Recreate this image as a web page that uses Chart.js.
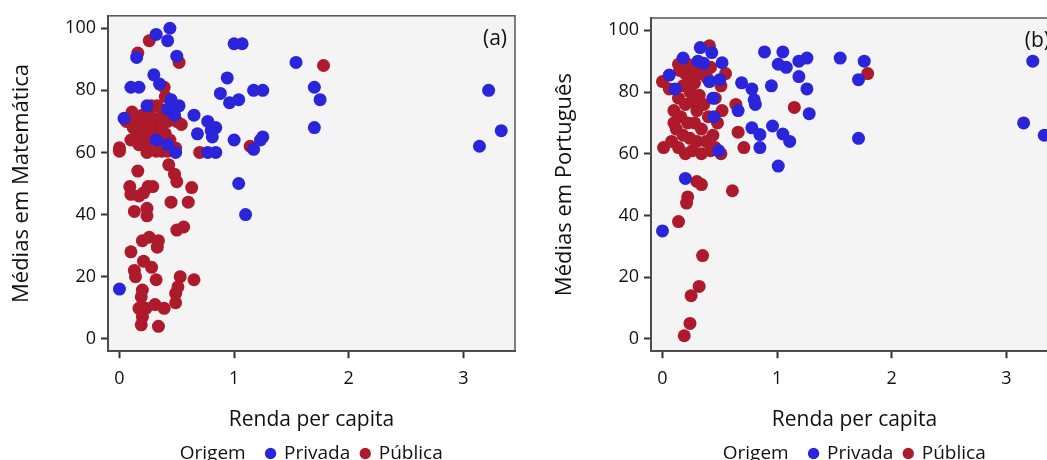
<!DOCTYPE html>
<html>
<head>
<meta charset="utf-8">
<script src="https://cdn.jsdelivr.net/npm/chart.js@4.4.1/dist/chart.umd.min.js"></script>
<style>
  html, body { margin: 0; padding: 0; background: #fff; overflow: hidden; width: 1047px; height: 460px; }
  .panel { position: absolute; top: 0; width: 530px; height: 473px; }
  #boxA { left: 0; }
  #boxB { left: 543px; }
</style>
</head>
<body>
<div class="panel" id="boxA"><canvas id="chartA"></canvas></div>
<div class="panel" id="boxB"><canvas id="chartB"></canvas></div>
<script>
// [renda per capita, média]
const matPrivada = [
  [0.44,100],[0.32,98],[0.42,96],[0.15,90.6],[0.50,91],[1.00,95],[1.07,95],[0.30,85],
  [0.10,81],[0.17,81],[0.94,84],[0.88,79],[0.96,76],[1.04,77],[1.17,80],[1.25,80],
  [0.35,82],[0.45,77],[0.52,75],[0.24,75],[0.48,72],[0.42,74],[0.65,72],[0.77,70],
  [0.84,68],[0.04,71],[1.54,89],[1.70,81],[1.75,77],[1.70,68],[0.68,66],[0.80,67],
  [0.81,65],[1.00,64],[1.25,65],[1.23,64],[1.17,61],[0.77,60],[0.84,60],[0.49,60],
  [0.42,62.5],[0.32,64],[1.04,50],[1.10,40],[0,16],[3.22,80],[3.33,67],[3.14,62]
];
const matPublica = [
  [0.26,96],[0.16,92],[0.52,89],[0.39,81],[0.40,78],[0.11,73],[0.26,73],[0.38,72],
  [0.06,70],[0.54,69],[1.78,88],[1.14,62],[0.70,60],
  [0.10,64],[0.17,62.5],[0.23,62],[0.23,64],[0.24,60],[0.32,60.4],[0.37,60.4],[0.42,60.4],
  [0.49,61.4],[0,60.4],[0,61.5],[0.12,68],[0.15,66],[0.18,70],[0.20,72],[0.22,67],
  [0.27,69],[0.28,65],[0.30,71],[0.32,67],[0.34,63],[0.40,66],[0.42,70],[0.44,64],
  [0.47,72],[0.50,70],[0.36,68],[0.14,70],[0.28,75],[0.33,75],
  [0.43,56],[0.48,53],[0.50,50.6],[0.16,54],[0.63,48.7],[0.09,49],[0.10,46.5],[0.17,46],
  [0.25,49],[0.29,49],[0.21,47],[0.45,44],[0.60,44],[0.13,41],[0.24,42],[0.24,39.6],
  [0.50,35],[0.56,36],[0.20,31.6],[0.26,32.7],[0.34,31.6],[0.33,29.5],[0.10,28],[0.21,25],
  [0.28,23],[0.13,22],[0.14,20],[0.32,19],[0.53,20],[0.65,19],[0.51,16.7],[0.49,14.6],
  [0.49,11.6],[0.20,15.7],[0.19,13.5],[0.17,9.8],[0.23,9.8],[0.31,11],[0.39,9.8],[0.20,7],
  [0.19,4.5],[0.34,4]
];
const porPrivada = [
  [3.23,90],[3.15,70],[3.33,66],[1.55,91],[1.76,90],[1.71,84],[1.71,65],[0.89,93],
  [1.05,93],[1.19,90],[1.26,91],[1.01,89],[1.08,88],[1.19,85],[1.26,81],[0.95,82],
  [0.69,83],[0.78,81],[0.80,77.5],[0.81,76],[1.28,73],[0.66,74],[0.78,68.4],[0.85,66.2],
  [0.96,69],[1.05,66.4],[1.11,64],[0.85,62],[1.01,56],[0.20,52],[0.49,61],[0.45,72],
  [0.44,78],[0.41,83.4],[0.52,89.5],[0.33,94.4],[0.43,92.8],[0.18,91],[0.31,90],[0.36,89.3],
  [0.50,84],[0.06,85.5],[0.11,81],[0,35]
];
const porPublica = [
  [0.41,95],[0.14,89],[0.55,86],[0,83.4],[0.06,81],[0.39,84.5],[0.51,82],[0.64,76],
  [0.66,67],[0.71,62],[0.51,60],[1.15,75],[1.79,86],[0.61,48],[0.22,46],[0.21,44],
  [0.14,38],[0.35,27],[0.32,17],[0.25,14],[0.24,5],[0.19,1],[0.30,51],[0.34,50],[0.01,62],
  [0.15,87],[0.20,86],[0.25,85],[0.18,82],[0.24,80],[0.28,83],[0.32,79],[0.14,78],
  [0.20,76],[0.26,77],[0.30,74],[0.36,76],[0.40,72],[0.10,74],[0.16,72],[0.22,70],
  [0.28,70],[0.34,68],[0.12,68],[0.18,66],[0.24,65],[0.30,64],[0.38,64],[0.44,66],
  [0.46,62],[0.08,64],[0.14,62],[0.20,60],[0.26,61],[0.34,60],[0.42,61],[0.48,70],
  [0.52,74],[0.46,78],[0.10,70],[0.22,89],[0.28,88],[0.33,86],[0.42,88]
];
const xTicks = [0, 1, 2, 3];
const yTicks = [0, 20, 40, 60, 80, 100];
const seriesNames = ['Privada', 'Pública'];
const legendTitle = 'Origem';

const BLUE = '#2a25da';
const RED = '#ad1a2b';
const FONT = 'Open Sans';

function pts(list) {
  return list.map(p => ({ x: p[0], y: p[1] }));
}

const panelBox = {
  id: 'panelBox',
  beforeDraw(chart) {
    const { ctx, chartArea: a } = chart;
    ctx.save();
    ctx.fillStyle = '#f4f4f4';
    ctx.fillRect(a.left, a.top, a.width, a.height);
    ctx.restore();
  },
  afterLayout(chart) {
    // the blank marker in front of "Origem" takes room; pull the legend back
    if (chart.legend) {
      chart.legend.left -= 9;
      chart.legend.right -= 9;
    }
  },
  beforeDatasetsDraw(chart) {
    const { ctx, chartArea: a } = chart;
    ctx.save();
    ctx.strokeStyle = '#555';
    ctx.lineWidth = 1.5;
    ctx.strokeRect(a.left, a.top, a.width, a.height);
    ctx.restore();
  },
  afterDatasetsDraw(chart, args, opts) {
    const { ctx, chartArea: a } = chart;
    ctx.save();
    ctx.font = '21px "' + FONT + '"';
    ctx.fillStyle = '#111';
    ctx.textAlign = 'right';
    ctx.textBaseline = 'middle';
    ctx.fillText(opts.letter, a.right - 8, a.top + 23);
    ctx.restore();
  }
};

function makeChart(id, privada, publica, yTitle, letter, topPad) {
  return new Chart(document.getElementById(id), {
    type: 'scatter',
    data: {
      datasets: [
        { label: seriesNames[0], data: pts(privada), backgroundColor: BLUE, borderWidth: 0, pointRadius: 6.5, pointHoverRadius: 6.5 },
        { label: seriesNames[1], data: pts(publica), backgroundColor: RED, borderWidth: 0, pointRadius: 6.5, pointHoverRadius: 6.5 }
      ]
    },
    options: {
      responsive: true,
      maintainAspectRatio: false,
      animation: false,
      layout: { padding: { top: topPad, right: 15, left: 0, bottom: 0 } },
      scales: {
        x: {
          type: 'linear',
          min: -0.1,
          max: 3.45,
          afterBuildTicks: s => { s.ticks = xTicks.map(v => ({ value: v })); },
          ticks: { color: '#111', font: { family: FONT, size: 18 }, padding: 10 },
          grid: { drawOnChartArea: false, drawTicks: true, tickLength: 7, tickColor: '#333', tickWidth: 2 },
          border: { display: true, color: '#333', width: 2 },
          title: { display: true, text: 'Renda per capita', color: '#111', font: { family: FONT, size: 21 }, padding: { top: 8, bottom: 0 } }
        },
        y: {
          min: -4,
          max: 104,
          afterBuildTicks: s => { s.ticks = yTicks.map(v => ({ value: v })); },
          afterFit: s => { s.width = 108; },
          ticks: { color: '#111', font: { family: FONT, size: 18 }, padding: 5 },
          grid: { drawOnChartArea: false, drawTicks: true, tickLength: 7, tickColor: '#333', tickWidth: 2 },
          border: { display: true, color: '#333', width: 2 },
          title: { display: true, text: yTitle, color: '#111', font: { family: FONT, size: 22 }, padding: { top: 9, bottom: 0 } }
        }
      },
      plugins: {
        tooltip: { enabled: false },
        panelBox: { letter: letter },
        legend: {
          position: 'bottom',
          fullSize: false,
          onClick: () => {},
          labels: {
            color: '#111',
            font: { family: FONT, size: 19 },
            usePointStyle: true,
            pointStyle: 'circle',
            boxWidth: 8,
            boxHeight: 8,
            padding: 11,
            generateLabels: chart => {
              const items = Chart.defaults.plugins.legend.labels.generateLabels(chart);
              items.forEach(it => { it.lineWidth = 0; it.strokeStyle = 'rgba(0,0,0,0)'; });
              return [{ text: legendTitle + '  ', fillStyle: 'rgba(0,0,0,0)', strokeStyle: 'rgba(0,0,0,0)', lineWidth: 0, pointStyle: 'circle', hidden: false, fontColor: '#111' }].concat(items);
            }
          }
        }
      }
    },
    plugins: [panelBox]
  });
}

makeChart('chartA', matPrivada, matPublica, 'Médias em Matemática', '(a)', 14);
makeChart('chartB', porPrivada, porPublica, 'Médias em Português', '(b)', 18);
</script>
</body>
</html>
